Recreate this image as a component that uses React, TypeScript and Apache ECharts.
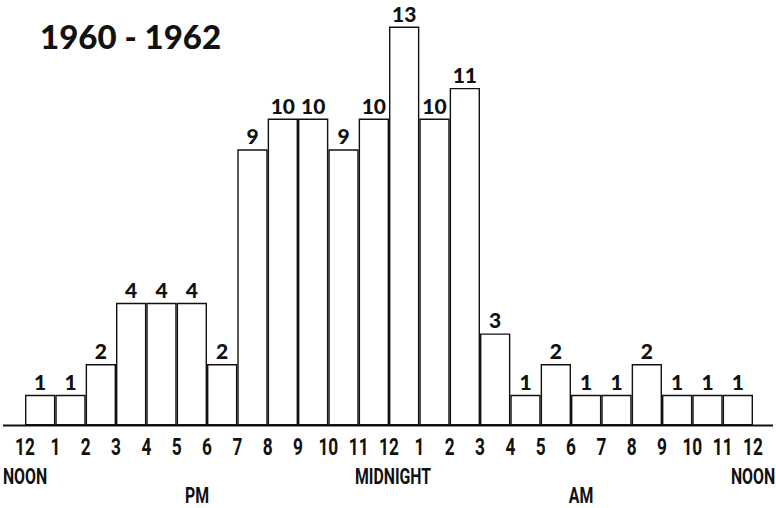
import React, { useEffect, useRef } from "react";
import * as echarts from "echarts";

const categories = [
  "12-1", "1-2", "2-3", "3-4", "4-5", "5-6", "6-7", "7-8", "8-9", "9-10", "10-11", "11-12",
  "12-1", "1-2", "2-3", "3-4", "4-5", "5-6", "6-7", "7-8", "8-9", "9-10", "10-11", "11-12",
];
const counts = [1, 1, 2, 4, 4, 4, 2, 9, 10, 10, 9, 10, 13, 10, 11, 3, 1, 2, 1, 1, 2, 1, 1, 1];
const hourTicks = [
  "12", "1", "2", "3", "4", "5", "6", "7", "8", "9", "10", "11",
  "12", "1", "2", "3", "4", "5", "6", "7", "8", "9", "10", "11", "12",
];
const tickNotes: Record<number, string> = { 0: "NOON", 12: "MIDNIGHT", 24: "NOON" };
const periodLabels = ["PM", "AM"];
const title = "1960 - 1962";

const NARROW = "Roboto, 'DejaVu Sans', sans-serif";
const GEO = "Lato, 'Noto Sans', sans-serif";

export default function App() {
  const ref = useRef<HTMLDivElement>(null);
  useEffect(() => {
    if (!ref.current) return;
    const chart = echarts.init(ref.current, undefined, { renderer: "svg" });
    chart.setOption({
      animation: false,
      backgroundColor: "#ffffff",
      grid: { left: 25, right: 23, top: 26.5, bottom: 82.5, outerBoundsMode: "none", containLabel: false },
      xAxis: [
        { type: "category", data: categories, show: false },
        {
          type: "value",
          min: 0,
          max: 24,
          interval: 1,
          position: "bottom",
          axisLine: { show: false },
          axisTick: { show: false },
          splitLine: { show: false },
          axisLabel: { show: false },
        },
      ],
      yAxis: { type: "value", min: 0, max: 13, show: false },
      series: [
        {
          type: "bar",
          xAxisIndex: 0,
          data: counts,
          barWidth: "100%",
          barGap: "0%",
          barCategoryGap: "0%",
          itemStyle: { color: "#ffffff", borderColor: "#111", borderWidth: 1.4 },
          label: {
            show: true,
            position: "top",
            distance: 3,
            fontFamily: GEO,
            fontWeight: 900,
            fontSize: 21,
            color: "#111",
          },
        },
      ],
    });

    const narrowText = (text: string, x: number, y: number, size: number) => ({
      type: "text",
      x,
      y,
      scaleX: 0.72,
      style: {
        text,
        fontFamily: NARROW,
        fontWeight: "bold",
        fontSize: size,
        fill: "#111",
        textAlign: "center",
        textVerticalAlign: "middle",
      },
    });

    const graphics: any[] = [
      {
        type: "line",
        shape: { x1: 3, y1: 425.5, x2: 773, y2: 425.5 },
        style: { stroke: "#111", lineWidth: 2.2 },
        z: 10,
      },
      {
        type: "text",
        x: 40,
        y: 36,
        style: {
          text: title,
          fontFamily: GEO,
          fontWeight: 900,
          fontSize: 33,
          fill: "#111",
          textVerticalAlign: "middle",
          textAlign: "left",
        },
      },
    ];
    hourTicks.forEach((t, i) => {
      const px = chart.convertToPixel({ xAxisIndex: 1 }, i) as number;
      graphics.push(narrowText(t, px, 447, 24));
      if (tickNotes[i]) {
        graphics.push(narrowText(tickNotes[i], px + (i === 12 ? 4 : 0), 476.5, 22));
      }
    });
    graphics.push(narrowText(periodLabels[0], 197, 496, 22));
    graphics.push(narrowText(periodLabels[1], 581, 496, 22));
    chart.setOption({ graphic: graphics });

    return () => chart.dispose();
  }, []);
  return (
    <div
      ref={ref}
      style={{ position: "fixed", left: 0, top: 0, width: 776, height: 508 }}
    />
  );
}
